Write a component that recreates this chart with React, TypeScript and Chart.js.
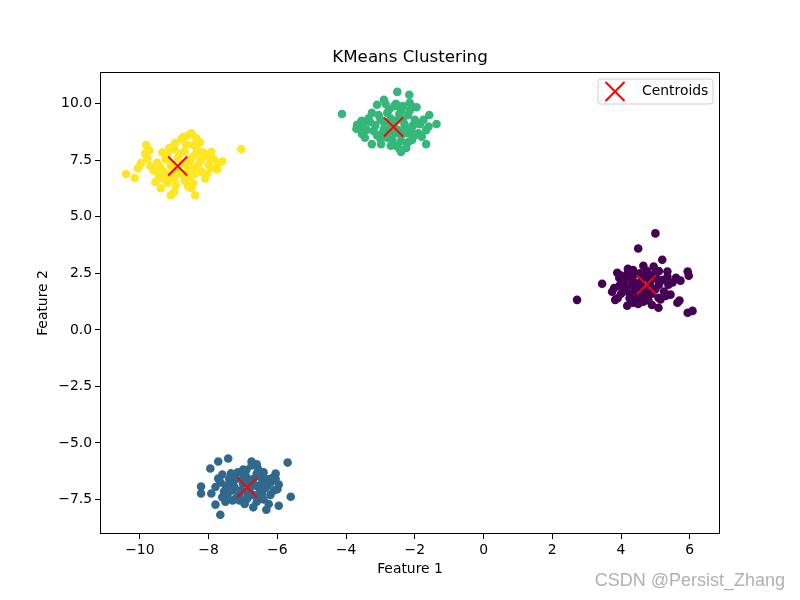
import React, { useEffect, useRef } from "react";
import { Chart, registerables } from "chart.js";

Chart.register(...registerables);

const clusterPurple: [number, number][] = [
  [2.72,1.33],[3.45,2.04],[3.74,1.69],[3.89,2.53],[3.83,1.33],[4.18,1.07],[4.35,1.2],[5.0,4.27],[4.5,3.6],[5.2,3.1],
  [4.65,2.84],[5.1,2.6],[5.35,2.58],[5.94,2.58],[5.97,2.4],[5.73,2.18],[5.38,2.0],[5.44,1.56],[5.64,1.2],[5.7,1.3],
  [5.09,1.42],[5.09,0.98],[6.08,0.84],[5.94,0.76],[4.0,2.4],[4.1,2.2],[4.2,2.5],[4.3,2.3],[4.4,2.1],[4.5,1.9],
  [4.6,1.7],[4.7,1.5],[4.8,1.3],[4.9,1.6],[5.0,1.8],[5.1,2.0],[5.2,2.2],[4.9,2.4],[4.75,2.6],[4.55,2.5],
  [4.35,2.65],[4.15,1.85],[4.0,1.6],[3.95,1.95],[4.25,1.6],[4.45,1.4],[4.65,1.25],[4.85,2.15],[5.0,2.5],[5.25,1.7],
  [5.35,2.35],[4.6,2.2],[4.4,1.75],[4.85,1.95],[5.15,1.35],[4.3,2.0],[4.05,2.15],[3.9,1.4],[4.55,1.55],[4.95,2.8],
  [4.7,2.35],[4.2,2.7],[5.5,2.1],[5.6,2.3],[4.5,1.15],[3.95,2.3],[4.4,2.45],[4.8,1.75],[5.05,2.25],[4.25,1.4],
  [4.6,2.0],[5.3,1.5],[4.1,1.75],[4.9,1.1],[3.8,1.85]
];

const clusterBlue: [number, number][] = [
  [-7.43,-5.69],[-7.72,-5.82],[-7.95,-6.13],[-7.72,-6.58],[-8.22,-6.93],[-8.22,-7.24],[-7.92,-7.24],[-7.8,-7.73],[-7.66,-8.18],[-7.51,-7.6],
  [-7.3,-7.55],[-6.75,-5.82],[-5.7,-5.87],[-5.61,-7.38],[-5.96,-7.78],[-6.32,-7.96],[-6.05,-6.36],[-5.96,-6.84],[-6.55,-6.18],[-6.99,-6.18],
  [-7.6,-6.4],[-7.4,-6.6],[-7.5,-6.9],[-7.3,-7.1],[-7.1,-7.3],[-6.9,-7.5],[-6.7,-7.3],[-6.5,-7.1],[-6.3,-6.9],[-6.1,-7.1],
  [-6.2,-7.3],[-6.4,-7.5],[-6.6,-7.6],[-6.8,-7.0],[-7.0,-6.8],[-7.2,-6.6],[-6.9,-6.5],[-6.7,-6.6],[-6.5,-6.5],[-6.3,-6.6],
  [-6.6,-6.9],[-7.05,-7.1],[-7.25,-6.95],[-6.85,-7.25],[-6.45,-7.25],[-6.15,-6.55],[-7.15,-6.3],[-7.35,-6.35],[-7.55,-7.15],[-7.65,-6.75],
  [-6.75,-6.0],[-6.6,-5.95],[-6.95,-7.7],[-7.2,-7.45],[-6.25,-7.7],[-6.0,-7.05],[-6.4,-6.3],[-7.45,-7.3],[-7.0,-6.35],[-6.8,-6.8],
  [-6.55,-7.4],[-6.2,-6.75],[-7.8,-6.95],[-7.1,-7.55],[-6.35,-7.0],[-6.9,-6.2],[-7.6,-7.4],[-6.05,-6.6],[-7.3,-6.8],[-6.7,-7.85],
  [-7.0,-6.6],[-6.45,-6.8],[-6.85,-7.4],[-7.4,-7.0],[-6.6,-6.35]
];

const clusterGreen: [number, number][] = [
  [-4.12,9.55],[-3.1,9.96],[-2.9,10.18],[-3.68,9.07],[-3.6,8.95],[-3.54,8.67],[-3.25,8.22],[-2.98,8.22],[-2.51,10.53],[-2.16,10.4],
  [-2.08,9.87],[-1.58,9.51],[-1.37,9.11],[-1.67,8.84],[-1.67,8.22],[-2.08,8.4],[-2.4,7.87],[-2.45,8.0],[-2.7,8.15],[-3.3,9.2],
  [-3.4,8.85],[-3.2,8.8],[-3.0,9.3],[-2.8,9.6],[-2.6,9.9],[-2.4,9.7],[-2.2,9.5],[-2.0,9.3],[-1.85,9.1],[-1.9,8.7],
  [-2.1,8.9],[-2.3,9.1],[-2.5,9.3],[-2.7,9.1],[-2.9,8.9],[-3.1,8.6],[-2.8,8.5],[-2.6,8.7],[-2.4,8.6],[-2.2,8.3],
  [-2.0,8.6],[-1.75,9.3],[-2.35,9.9],[-2.55,10.0],[-2.75,9.75],[-3.05,9.5],[-3.35,9.35],[-3.5,9.1],[-3.15,9.05],[-2.95,8.7],
  [-2.65,8.4],[-2.3,8.85],[-2.15,9.7],[-1.95,9.85],[-2.7,9.35],[-2.45,9.55],[-2.85,10.0],[-3.45,8.5],[-2.55,8.15],[-2.25,8.05],
  [-1.8,8.55],[-2.05,9.05],[-3.25,9.6],[-2.6,9.15],[-2.35,9.3],[-3.55,9.25],[-2.9,9.2],[-2.2,8.7],[-1.6,9.0],[-2.75,8.8],
  [-3.7,8.9],[-2.5,8.85],[-2.15,10.05],[-3.0,8.45],[-2.4,8.35]
];

const clusterYellow: [number, number][] = [
  [-10.4,6.9],[-10.15,6.72],[-10.06,7.15],[-9.97,7.38],[-9.85,7.8],[-9.82,8.18],[-9.78,7.6],[-9.72,7.95],[-9.41,7.2],[-9.33,6.7],
  [-9.39,6.27],[-9.1,5.96],[-8.98,8.27],[-8.74,8.53],[-8.5,8.7],[-8.36,8.49],[-8.45,8.18],[-7.92,7.87],[-8.07,7.73],[-7.72,7.38],
  [-7.92,7.16],[-8.22,7.51],[-8.45,6.49],[-8.39,5.96],[-8.5,6.27],[-7.05,8.0],[-8.6,8.6],[-8.8,8.45],[-9.0,8.0],[-9.2,7.8],
  [-9.5,7.4],[-9.3,7.0],[-9.1,7.3],[-8.9,7.6],[-8.7,7.9],[-8.5,7.6],[-8.3,7.3],[-8.6,7.1],[-8.8,6.9],[-9.0,6.7],
  [-9.2,6.5],[-8.7,6.6],[-8.4,6.9],[-8.2,7.0],[-8.0,7.3],[-8.9,7.0],[-9.05,7.15],[-8.75,7.35],[-8.55,7.45],[-9.25,7.55],
  [-9.6,7.05],[-9.55,6.55],[-9.45,6.85],[-8.15,7.85],[-8.35,8.05],[-8.25,8.3],[-8.65,8.2],[-9.15,8.05],[-8.95,6.4],[-8.55,6.8],
  [-7.75,7.1],[-7.6,7.45],[-7.85,7.55],[-8.1,6.7],[-9.7,7.25],[-8.85,7.8],[-8.4,7.75],[-9.35,7.85],[-8.05,6.9],[-8.6,6.35],
  [-9.0,6.1],[-8.3,7.9],[-7.95,7.6],[-9.15,6.85],[-8.45,7.15]
];

const centroids: [number, number][] = [
  [4.74, 2.0], [-6.88, -6.97], [-2.62, 8.98], [-8.9, 7.25]
];

const xTicks = [-10, -8, -6, -4, -2, 0, 2, 4, 6];
const yTicks = [-7.5, -5.0, -2.5, 0.0, 2.5, 5.0, 7.5, 10.0];

const FONT = "'DejaVu Sans', sans-serif";

const toPts = (arr: [number, number][]) => arr.map(([x, y]) => ({ x, y }));
const minus = (s: string) => s.replace("-", "\u2212");

export default function App() {
  const ref = useRef<HTMLCanvasElement | null>(null);

  useEffect(() => {
    const canvas = ref.current;
    if (!canvas) return;

    const framePlugin = {
      id: "frameAndExtras",
      afterDraw(chart: any) {
        const { ctx, chartArea } = chart;
        const { left, top, right, bottom } = chartArea;
        ctx.save();
        ctx.strokeStyle = "#000";
        ctx.lineWidth = 1;
        ctx.strokeRect(Math.round(left) + 0.5, Math.round(top) + 0.5, Math.round(right - left) - 1, Math.round(bottom - top) - 1);

        // title
        ctx.fillStyle = "#000";
        ctx.font = `16.7px ${FONT}`;
        ctx.textAlign = "center";
        ctx.textBaseline = "middle";
        ctx.fillText("KMeans Clustering", (left + right) / 2, 58);

        // legend box
        const lw = 115, lh = 25;
        const lx = right - 7 - lw, ly = top + 7;
        ctx.fillStyle = "rgba(255,255,255,0.8)";
        ctx.strokeStyle = "#d0d0d0";
        ctx.lineWidth = 1;
        const r = 3;
        ctx.beginPath();
        ctx.moveTo(lx + r, ly);
        ctx.lineTo(lx + lw - r, ly);
        ctx.quadraticCurveTo(lx + lw, ly, lx + lw, ly + r);
        ctx.lineTo(lx + lw, ly + lh - r);
        ctx.quadraticCurveTo(lx + lw, ly + lh, lx + lw - r, ly + lh);
        ctx.lineTo(lx + r, ly + lh);
        ctx.quadraticCurveTo(lx, ly + lh, lx, ly + lh - r);
        ctx.lineTo(lx, ly + r);
        ctx.quadraticCurveTo(lx, ly, lx + r, ly);
        ctx.closePath();
        ctx.fill();
        ctx.stroke();
        const mx = lx + 17, my = ly + lh / 2, h = 9.5;
        ctx.strokeStyle = "#ff0000";
        ctx.lineWidth = 2;
        ctx.beginPath();
        ctx.moveTo(mx - h, my - h);
        ctx.lineTo(mx + h, my + h);
        ctx.moveTo(mx - h, my + h);
        ctx.lineTo(mx + h, my - h);
        ctx.stroke();
        ctx.fillStyle = "#000";
        ctx.font = `13.9px ${FONT}`;
        ctx.textAlign = "left";
        ctx.textBaseline = "middle";
        ctx.fillText("Centroids", lx + 44, my);

        // watermark
        ctx.font = `18px 'Liberation Sans', Arial, sans-serif`;
        ctx.textAlign = "right";
        ctx.textBaseline = "middle";
        ctx.fillStyle = "rgba(150,150,150,0.75)";
        ctx.fillText("CSDN @Persist_Zhang", 785, 581);
        ctx.restore();
      },
    };

    const chart = new Chart(canvas, {
      type: "scatter",
      data: {
        datasets: [
          { label: "c0", data: toPts(clusterPurple), backgroundColor: "#440154", pointRadius: 4.3, pointHoverRadius: 4.3, borderWidth: 0, order: 1 },
          { label: "c1", data: toPts(clusterBlue), backgroundColor: "#31688e", pointRadius: 4.3, pointHoverRadius: 4.3, borderWidth: 0, order: 1 },
          { label: "c2", data: toPts(clusterGreen), backgroundColor: "#35b779", pointRadius: 4.3, pointHoverRadius: 4.3, borderWidth: 0, order: 1 },
          { label: "c3", data: toPts(clusterYellow), backgroundColor: "#fde725", pointRadius: 4.3, pointHoverRadius: 4.3, borderWidth: 0, order: 1 },
          {
            label: "Centroids",
            data: toPts(centroids),
            pointStyle: "crossRot",
            pointRadius: 13.5,
            pointHoverRadius: 13.5,
            borderColor: "#ff0000",
            backgroundColor: "#ff0000",
            borderWidth: 2,
            order: 0,
          } as any,
        ],
      },
      options: {
        animation: false,
        responsive: false,
        events: [],
        layout: { padding: { left: 0, right: 80, top: 72, bottom: 0 } },
        plugins: {
          legend: { display: false },
          tooltip: { enabled: false },
          title: { display: false },
        },
        scales: {
          x: {
            type: "linear",
            min: -11.16,
            max: 6.88,
            afterBuildTicks: (axis: any) => {
              axis.ticks = xTicks.map((v) => ({ value: v }));
            },
            afterFit: (axis: any) => {
              axis.height = 66;
            },
            ticks: {
              color: "#000",
              font: { family: FONT, size: 13.9 },
              padding: 3,
              maxRotation: 0,
              autoSkip: false,
              callback: (v: any) => minus(String(v)),
            },
            grid: { display: true, drawOnChartArea: false, drawTicks: true, tickLength: 5, color: "#000", lineWidth: 1 },
            border: { display: false },
            title: {
              display: true,
              text: "Feature 1",
              color: "#000",
              font: { family: FONT, size: 13.9 },
              padding: { top: 0, bottom: 22 },
            },
          },
          y: {
            type: "linear",
            min: -9.03,
            max: 11.41,
            afterBuildTicks: (axis: any) => {
              axis.ticks = yTicks.map((v) => ({ value: v }));
            },
            afterFit: (axis: any) => {
              axis.width = 100;
            },
            ticks: {
              color: "#000",
              font: { family: FONT, size: 13.9 },
              padding: 3,
              autoSkip: false,
              callback: (v: any) => minus(Number(v).toFixed(1)),
            },
            grid: { display: true, drawOnChartArea: false, drawTicks: true, tickLength: 5, color: "#000", lineWidth: 1 },
            border: { display: false },
            title: {
              display: true,
              text: "Feature 2",
              color: "#000",
              font: { family: FONT, size: 13.9 },
              padding: { top: 35, bottom: 0 },
            },
          },
        },
      },
      plugins: [framePlugin],
    });

    return () => chart.destroy();
  }, []);

  return (
    <div style={{ position: "fixed", left: 0, top: 0, width: 800, height: 600, background: "#fff" }}>
      <canvas ref={ref} width={800} height={600} style={{ width: 800, height: 600, display: "block" }} />
    </div>
  );
}
